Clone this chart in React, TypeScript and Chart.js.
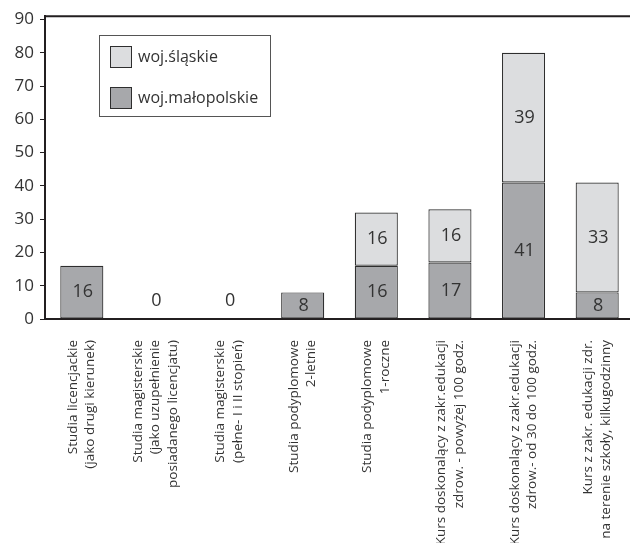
import { useEffect, useRef } from "react";
import { Chart, registerables } from "chart.js";

Chart.register(...registerables);

// Category names, one array entry per printed line
const categories: string[][] = [
  ["Studia licencjackie", "(jako drugi kierunek)"],
  ["Studia magisterskie", "(jako uzupełnienie", "posiadanego licencjatu)"],
  ["Studia magisterskie", "(pełne- I i II stopień)"],
  ["Studia podyplomowe", "2-letnie"],
  ["Studia podyplomowe", "1-roczne"],
  ["Kurs doskonalący z zakr.edukacji", "zdrow. - powyżej 100 godz."],
  ["Kurs doskonalący z zakr.edukacji", "zdrow.- od 30 do 100 godz."],
  ["Kurs z zakr. edukacji zdr.", "na terenie szkoły, kilkugodzinny"],
];

const seriesNames = ["woj.małopolskie", "woj.śląskie"];
const malopolskie: (number | null)[] = [16, 0, 0, 8, 16, 17, 41, 8];
const slaskie: (number | null)[] = [null, null, null, null, 16, 16, 39, 33];
const yTicks = [0, 10, 20, 30, 40, 50, 60, 70, 80, 90];

const FONT = "'Open Sans', 'DejaVu Sans', sans-serif";
const TEXT = "#333333";
const AXIS = "#231f20";
const DARK = "#a7a8ab";
const LIGHT = "#dcdddf";
const EDGE = "#2e2e2e";

const W = 634;
const H = 543;

// Line along the top edge of the plot area
const topFrame = {
  id: "topFrame",
  afterDraw(chart: any) {
    const { ctx, chartArea } = chart;
    ctx.save();
    ctx.strokeStyle = AXIS;
    ctx.lineWidth = 2;
    ctx.beginPath();
    ctx.moveTo(chartArea.left - 1, chartArea.top);
    ctx.lineTo(chartArea.right, chartArea.top);
    ctx.stroke();
    ctx.restore();
  },
};

// Value printed in the middle of each stacked segment
const valueLabels = {
  id: "valueLabels",
  afterDatasetsDraw(chart: any) {
    const { ctx } = chart;
    ctx.save();
    ctx.font = `18px ${FONT}`;
    ctx.fillStyle = TEXT;
    ctx.textAlign = "center";
    ctx.textBaseline = "middle";
    chart.data.datasets.forEach((ds: any, di: number) => {
      const meta = chart.getDatasetMeta(di);
      meta.data.forEach((el: any, i: number) => {
        const v = ds.data[i];
        if (v === null || v === undefined) return;
        const y = v === 0 ? el.base - 18 : (el.y + el.base) / 2;
        ctx.fillText(String(v), el.x + 1, y);
      });
    });
    ctx.restore();
  },
};

// Vertical, multi-line category names centred on each tick
const categoryLabels = {
  id: "categoryLabels",
  afterDraw(chart: any) {
    const { ctx, chartArea } = chart;
    const xScale = chart.scales.x;
    const lineH = 17.5;
    ctx.save();
    ctx.font = `13.5px ${FONT}`;
    ctx.fillStyle = TEXT;
    ctx.textAlign = "right";
    ctx.textBaseline = "middle";
    categories.forEach((lines, i) => {
      const x = xScale.getPixelForValue(i);
      ctx.save();
      ctx.translate(x, chartArea.bottom + 21);
      ctx.rotate(-Math.PI / 2);
      lines.forEach((line, j) => {
        ctx.fillText(line, 0, (j - (lines.length - 1) / 2) * lineH);
      });
      ctx.restore();
    });
    ctx.restore();
  },
};

// Boxed legend inside the plot area, top series listed first
const boxLegend = {
  id: "boxLegend",
  afterDraw(chart: any) {
    const { ctx } = chart;
    const items = [...chart.data.datasets].reverse();
    ctx.save();
    ctx.fillStyle = "#ffffff";
    ctx.fillRect(99.5, 35.5, 171, 81);
    ctx.strokeStyle = "#555555";
    ctx.lineWidth = 1;
    ctx.strokeRect(99.5, 35.5, 171, 81);
    ctx.font = `16px ${FONT}`;
    ctx.textAlign = "left";
    ctx.textBaseline = "middle";
    items.forEach((ds: any, k: number) => {
      const y = 46.5 + k * 41;
      ctx.fillStyle = ds.backgroundColor;
      ctx.fillRect(110.5, y, 21, 21);
      ctx.strokeStyle = EDGE;
      ctx.strokeRect(110.5, y, 21, 21);
      ctx.fillStyle = TEXT;
      ctx.fillText(ds.label, 138, y + 10.5);
    });
    ctx.restore();
  },
};

export default function App() {
  const canvasRef = useRef<HTMLCanvasElement | null>(null);

  useEffect(() => {
    const canvas = canvasRef.current;
    if (!canvas) return;
    Chart.defaults.font.family = FONT;
    const chart = new Chart(canvas, {
      type: "bar",
      data: {
        labels: categories.map((c) => c.join(" ")),
        datasets: [
          {
            label: seriesNames[0],
            data: malopolskie,
            backgroundColor: DARK,
            borderColor: EDGE,
            borderWidth: 1.2,
            borderSkipped: false,
            categoryPercentage: 1,
            barPercentage: 0.585,
          },
          {
            label: seriesNames[1],
            data: slaskie,
            backgroundColor: LIGHT,
            borderColor: EDGE,
            borderWidth: 1.2,
            borderSkipped: false,
            categoryPercentage: 1,
            barPercentage: 0.585,
          },
        ],
      },
      options: {
        responsive: false,
        animation: false,
        devicePixelRatio: 1,
        layout: { padding: { top: 16, right: 0, left: 0, bottom: 0 } },
        plugins: {
          legend: { display: false },
          tooltip: { enabled: false },
        },
        scales: {
          x: {
            stacked: true,
            grid: { display: false },
            border: { display: true, color: AXIS, width: 2 },
            ticks: { display: false },
            afterFit: (s: any) => {
              s.height = H - 319;
            },
          },
          y: {
            stacked: true,
            min: 0,
            max: 91,
            afterBuildTicks: (s: any) => {
              s.ticks = yTicks.map((v) => ({ value: v }));
            },
            ticks: {
              stepSize: 10,
              color: TEXT,
              font: { size: 17, family: FONT },
              padding: 6,
            },
            grid: {
              drawOnChartArea: false,
              drawTicks: true,
              tickLength: 5,
              color: AXIS,
              tickColor: AXIS,
              lineWidth: 1,
            },
            border: { display: true, color: AXIS, width: 2 },
            afterFit: (s: any) => {
              s.width = 45;
            },
          },
        },
      },
      plugins: [topFrame, valueLabels, categoryLabels, boxLegend],
    });
    return () => chart.destroy();
  }, []);

  return (
    <div
      style={{
        position: "fixed",
        left: 0,
        top: 0,
        width: 630,
        height: H,
        overflow: "hidden",
        background: "#ffffff",
      }}
    >
      <canvas ref={canvasRef} width={W} height={H} style={{ width: W, height: H, display: "block" }} />
    </div>
  );
}
